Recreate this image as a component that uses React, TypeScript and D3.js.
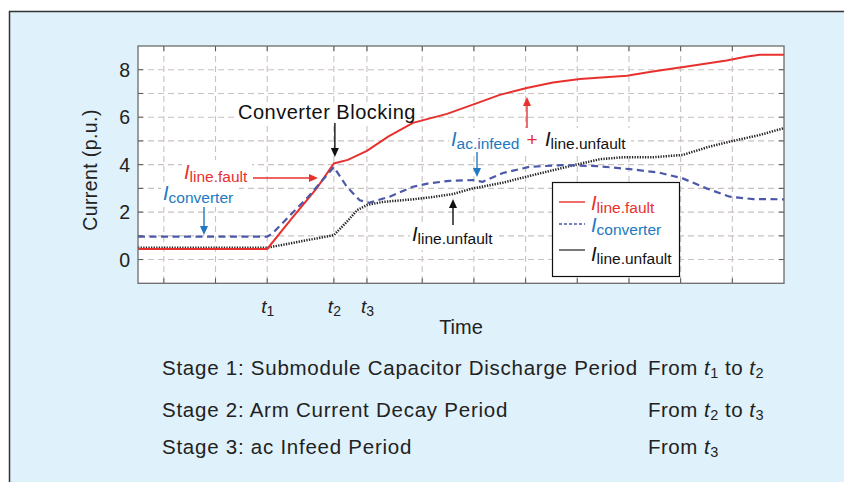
import React from 'react';
import * as d3 from 'd3';

// ---------- data (time in arbitrary units, current in p.u.) ----------
const T1 = 2.5;
const T2 = 3.79;
const T3 = 4.43;

const lineFaultTime = [0, 2.5, 2.98, 3.46, 3.79, 4.06, 4.43, 4.84, 5.32, 5.98, 6.52, 7.0, 7.52, 8.03, 8.55, 9.46, 9.96, 10.62, 11.39, 11.76, 12.03, 12.5];
const lineFaultValues = [0.45, 0.45, 1.75, 3.01, 4.05, 4.2, 4.58, 5.18, 5.76, 6.14, 6.56, 6.94, 7.23, 7.46, 7.61, 7.75, 7.93, 8.14, 8.39, 8.55, 8.63, 8.63];

const converterTime = [0, 2.5, 2.6, 3.27, 3.79, 4.04, 4.29, 4.47, 4.87, 5.32, 5.6, 6.03, 6.48, 6.67, 7.06, 7.58, 8.22, 8.88, 9.57, 10.09, 10.54, 11.0, 11.45, 11.9, 12.5];
const converterValues = [0.97, 0.97, 1.1, 2.59, 3.9, 3.07, 2.5, 2.39, 2.65, 3.07, 3.2, 3.32, 3.35, 3.28, 3.65, 3.91, 3.98, 3.94, 3.8, 3.66, 3.42, 3.0, 2.65, 2.55, 2.54];

const lineUnfaultTime = [0, 2.5, 3.79, 4.04, 4.24, 4.43, 4.74, 5.32, 5.65, 6.09, 6.48, 7.06, 7.64, 8.36, 8.94, 9.38, 9.96, 10.54, 11.06, 11.51, 12.03, 12.5];
const lineUnfaultValues = [0.5, 0.5, 1.03, 1.59, 2.08, 2.3, 2.43, 2.54, 2.62, 2.76, 3.0, 3.24, 3.56, 3.94, 4.23, 4.31, 4.31, 4.41, 4.76, 5.0, 5.25, 5.54];

const xGridTicks = [0.5, 1.5, T1, T2, T3, 5.5, 6.5, 7.5, 8.5, 9.5, 10.5, 11.5];
const xTickLabels = [
  { value: T1, sub: '1' },
  { value: T2, sub: '2' },
  { value: T3, sub: '3' },
];
const yGridTicks = [0, 1, 2, 3, 4, 5, 6, 7, 8];
const yTickLabels = [0, 2, 4, 6, 8];

const stageLabels = [
  'Stage 1: Submodule Capacitor Discharge Period',
  'Stage 2: Arm Current Decay Period',
  'Stage 3: ac Infeed Period',
];
const stageRanges = [
  [['From ', ''], ['t', '1'], [' to ', ''], ['t', '2']],
  [['From ', ''], ['t', '2'], [' to ', ''], ['t', '3']],
  [['From ', ''], ['t', '3']],
];

// ---------- layout ----------
const W = 844;
const H = 482;
const PL = 138, PR = 784, PT = 46, PB = 283.3;
const FONT = '"Liberation Sans", Arial, Helvetica, sans-serif';
const RED = '#e8302e';
const BLUE_LINE = '#4b58a8';
const BLUE_TEXT = '#2279c0';
const BLACK = '#222';

const x = d3.scaleLinear().domain([0, 12.5]).range([PL, PR]);
const y = d3.scaleLinear().domain([-1, 9]).range([PB, PT]);

const mk = (ts: number[], vs: number[]) => ts.map((t, i) => [t, vs[i]] as [number, number]);
const line = d3.line<[number, number]>().x(d => x(d[0])).y(d => y(d[1])).curve(d3.curveLinear);

function SubLabel({ x: lx, y: ly, main, sub, color, size = 19, subSize = 15.5, italicMain = true, dy = 4 }: any) {
  return (
    <text x={lx} y={ly} fill={color} fontFamily={FONT} fontSize={size}>
      <tspan fontStyle={italicMain ? 'italic' : 'normal'}>{main}</tspan>
      <tspan fontSize={subSize} dy={dy}>{sub}</tspan>
    </text>
  );
}

function Arrow({ x1, y1, x2, y2, color }: any) {
  const ang = Math.atan2(y2 - y1, x2 - x1);
  const L = 9, Wd = 4;
  const bx = x2 - L * Math.cos(ang), by = y2 - L * Math.sin(ang);
  const px = -Math.sin(ang) * Wd, py = Math.cos(ang) * Wd;
  return (
    <g>
      <line x1={x1} y1={y1} x2={bx} y2={by} stroke={color} strokeWidth={1.4} />
      <path d={`M${x2},${y2}L${bx + px},${by + py}L${bx - px},${by - py}Z`} fill={color} />
    </g>
  );
}

export default function App() {
  const fault = mk(lineFaultTime, lineFaultValues);
  const conv = mk(converterTime, converterValues);
  const unfault = mk(lineUnfaultTime, lineUnfaultValues);
  const rowY = [375, 417, 454];

  return (
    <svg width={W} height={H} style={{ position: 'absolute', left: 0, top: 0 }} fontFamily={FONT}>
      {/* panel */}
      <rect x={0} y={0} width={W} height={H} fill="#ffffff" />
      <rect x={9.5} y={11.5} width={900} height={500} fill="#dff1fa" stroke="#333" strokeWidth={1.5} />

      {/* plot area */}
      <rect x={PL} y={PT} width={PR - PL} height={PB - PT} fill="#ffffff" />

      {/* grid */}
      <g stroke="#c9c2bf" strokeWidth={1.1} strokeDasharray="6,4">
        {yGridTicks.map(v => (
          <line key={'gy' + v} x1={PL} x2={PR} y1={y(v)} y2={y(v)} />
        ))}
        {xGridTicks.map(v => (
          <line key={'gx' + v} x1={x(v)} x2={x(v)} y1={PT} y2={PB} />
        ))}
      </g>

      {/* ticks */}
      <g stroke="#555" strokeWidth={1}>
        {yGridTicks.map(v => (
          <g key={'ty' + v}>
            <line x1={PL} x2={PL + 5} y1={y(v)} y2={y(v)} />
            <line x1={PR} x2={PR - 5} y1={y(v)} y2={y(v)} />
          </g>
        ))}
        {xGridTicks.map(v => (
          <g key={'tx' + v}>
            <line x1={x(v)} x2={x(v)} y1={PB} y2={PB - 5} />
            <line x1={x(v)} x2={x(v)} y1={PT} y2={PT + 5} />
          </g>
        ))}
      </g>

      {/* annotation backgrounds */}
      <g fill="#ffffff">
        <rect x={236} y={102} width={184} height={22} />
        <rect x={182} y={160} width={70} height={27} />
        <rect x={161} y={183} width={78} height={24} />
        <rect x={449} y={128} width={182} height={26} />
        <rect x={410} y={224} width={89} height={26} />
      </g>

      {/* series */}
      <path d={line(unfault) || ''} fill="none" stroke={BLACK} strokeWidth={2.5} strokeDasharray="1.3,1.3" />
      <path d={line(fault) || ''} fill="none" stroke={RED} strokeWidth={2} />
      <path d={line(conv) || ''} fill="none" stroke={BLUE_LINE} strokeWidth={2.2} strokeDasharray="7,4.5" />

      {/* plot frame */}
      <rect x={PL} y={PT} width={PR - PL} height={PB - PT} fill="none" stroke="#6b6b6b" strokeWidth={1.3} />

      {/* annotations */}
      <text x={238} y={119} fontSize={20} fill="#111" letterSpacing={0.5}>Converter Blocking</text>
      <Arrow x1={x(T2) + 1} y1={123} x2={x(T2) + 1} y2={157} color="#111" />

      <SubLabel x={184} y={179} main="I" sub="line.fault" color={RED} size={20} subSize={15.5} dy={3} />
      <Arrow x1={253} y1={178} x2={318} y2={178} color={RED} />

      <SubLabel x={163} y={200} main="I" sub="converter" color={BLUE_TEXT} size={20} subSize={15.5} dy={3} />
      <Arrow x1={204} y1={207} x2={204} y2={235} color={BLUE_TEXT} />

      <SubLabel x={451} y={146} main="I" sub="ac.infeed" color={BLUE_TEXT} size={20} subSize={15.5} dy={3} />
      <text x={532} y={146} fontSize={19} fill={RED} textAnchor="middle">+</text>
      <SubLabel x={545} y={146} main="I" sub="line.unfault" color="#111" size={20} subSize={15.5} dy={3} />
      <Arrow x1={527} y1={128} x2={527} y2={97} color={RED} />
      <Arrow x1={477} y1={152} x2={477} y2={177} color={BLUE_TEXT} />

      <SubLabel x={412} y={241} main="I" sub="line.unfault" color="#111" size={20} subSize={15.5} dy={3} />
      <Arrow x1={453} y1={225} x2={453} y2={199} color="#111" />

      {/* legend */}
      <g>
        <rect x={552.5} y={182.5} width={127} height={94} fill="#ffffff" stroke="#111" strokeWidth={1.2} />
        <line x1={559} x2={585} y1={202} y2={202} stroke={RED} strokeWidth={1.4} />
        <line x1={559} x2={585} y1={224} y2={224} stroke={BLUE_LINE} strokeWidth={1.4} strokeDasharray="3,2" />
        <line x1={559} x2={585} y1={250} y2={250} stroke={BLACK} strokeWidth={1.2} />
        <SubLabel x={591} y={210} main="I" sub="line.fault" color={RED} size={20} subSize={15.5} dy={3} />
        <SubLabel x={591} y={232} main="I" sub="converter" color={BLUE_TEXT} size={20} subSize={15.5} dy={3} />
        <SubLabel x={591} y={261} main="I" sub="line.unfault" color="#111" size={20} subSize={15.5} dy={3} />
      </g>

      {/* y axis labels */}
      {yTickLabels.map(v => (
        <text key={'yl' + v} x={130} y={y(v) + 7} fontSize={19.5} textAnchor="end" fill="#222">{v}</text>
      ))}
      <text transform={`translate(97,170) rotate(-90)`} fontSize={19.5} textAnchor="middle" fill="#222" letterSpacing={0.4}>Current (p.u.)</text>

      {/* x axis labels */}
      {xTickLabels.map(d => (
        <text key={'xl' + d.sub} x={x(d.value) - 6} y={313} fontSize={19} fill="#222">
          <tspan fontStyle="italic">t</tspan>
          <tspan fontSize={14} dy={3}>{d.sub}</tspan>
        </text>
      ))}
      <text x={461} y={334} fontSize={20} textAnchor="middle" fill="#222">Time</text>

      {/* stage descriptions */}
      {stageLabels.map((s, i) => (
        <text key={'st' + i} x={162} y={rowY[i]} fontSize={20.5} fill="#222" letterSpacing={0.75}>{s}</text>
      ))}
      {stageRanges.map((parts, i) => (
        <text key={'sr' + i} x={648} y={rowY[i]} fontSize={20.5} fill="#222" letterSpacing={0.5}>
          {parts.map((p, j) => {
            if (p[1] === '') {
              const prevSub = j > 0 && parts[j - 1][1] !== '';
              return <tspan key={j} dy={prevSub ? -3 : 0} style={{ whiteSpace: 'pre' }}>{p[0]}</tspan>;
            }
            return (
              <React.Fragment key={j}>
                <tspan fontStyle="italic">{p[0]}</tspan>
                <tspan fontSize={14.5} dy={3}>{p[1]}</tspan>
              </React.Fragment>
            );
          })}
        </text>
      ))}
    </svg>
  );
}
